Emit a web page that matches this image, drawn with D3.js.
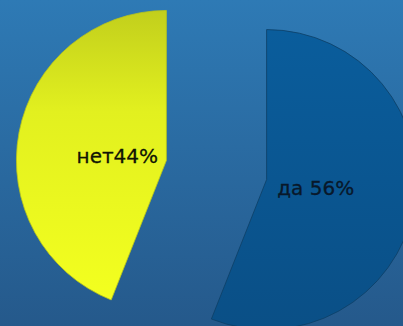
<!DOCTYPE html>
<html>
<head>
<meta charset="utf-8">
<script src="https://cdn.jsdelivr.net/npm/d3@7"></script>
<style>
  html, body { margin: 0; padding: 0; overflow: hidden; }
  svg { display: block; }
</style>
</head>
<body>
<div id="chart"></div>
<script>
// chart data
let labels = ["да", "нет"];
let values = [56, 44];
let labelText = ["да 56%", "нет44%"];

let width = 403, height = 326;
let radius = 150;
let explode = 51;
let cx = 216.5, cy = 170;

let svg = d3.select("#chart").append("svg")
    .attr("width", width)
    .attr("height", height);

let defs = svg.append("defs");

// background gradient
let bg = defs.append("linearGradient")
    .attr("id", "bg").attr("x1", 0).attr("y1", 0).attr("x2", 0).attr("y2", 1);
bg.append("stop").attr("offset", "0%").attr("stop-color", "#2e7ab5");
bg.append("stop").attr("offset", "100%").attr("stop-color", "#25598b");

// yellow slice gradient
let gy = defs.append("linearGradient")
    .attr("id", "gYellow").attr("x1", 0).attr("y1", 0).attr("x2", 0).attr("y2", 1);
gy.append("stop").attr("offset", "0%").attr("stop-color", "#c2cf1c");
gy.append("stop").attr("offset", "35%").attr("stop-color", "#e2f01f");
gy.append("stop").attr("offset", "100%").attr("stop-color", "#f3ff1f");

// blue slice gradient
let gb = defs.append("linearGradient")
    .attr("id", "gBlue").attr("x1", 0).attr("y1", 0).attr("x2", 0).attr("y2", 1);
gb.append("stop").attr("offset", "0%").attr("stop-color", "#0a5d9c");
gb.append("stop").attr("offset", "100%").attr("stop-color", "#0a4f86");

svg.append("rect")
    .attr("width", width).attr("height", height)
    .attr("fill", "url(#bg)");

let color = d3.scaleOrdinal()
    .domain(labels)
    .range(["url(#gBlue)", "url(#gYellow)"]);
let stroke = d3.scaleOrdinal()
    .domain(labels)
    .range(["#0d3f66", "#b8c41a"]);

let pie = d3.pie().sort(null).value(d => d)(values);
let arc = d3.arc().innerRadius(0).outerRadius(radius);
let labelArc = d3.arc().innerRadius(0).outerRadius(100);

let slices = svg.selectAll(".slice")
    .data(pie)
    .enter().append("g")
    .attr("class", "slice")
    .attr("transform", d => {
        let mid = (d.startAngle + d.endAngle) / 2;
        let x = cx + explode * Math.sin(mid);
        let y = cy - explode * Math.cos(mid);
        return `translate(${x}, ${y})`;
    });

slices.append("path")
    .attr("d", arc)
    .attr("fill", (d, i) => color(labels[i]))
    .attr("stroke", (d, i) => stroke(labels[i]))
    .attr("stroke-width", 0.8);

// labels, the yellow one sits a little lower in the original
slices.append("text")
    .attr("transform", (d, i) => {
        let c = labelArc.centroid(d);
        return `translate(${c[0]}, ${c[1] + (i === 1 ? 5 : -1)})`;
    })
    .attr("text-anchor", "middle")
    .attr("dy", "0.35em")
    .attr("font-family", "DejaVu Sans, sans-serif")
    .attr("font-size", 20)
    .attr("fill", (d, i) => i === 0 ? "#08182a" : "#101404")
    .attr("stroke", (d, i) => i === 0 ? "#08182a" : "#101404")
    .attr("stroke-width", 0.3)
    .text((d, i) => labelText[i]);
</script>
</body>
</html>
